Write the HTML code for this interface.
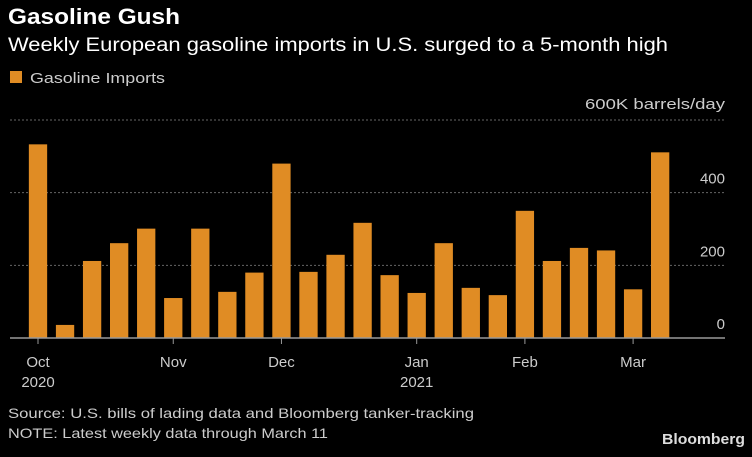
<!DOCTYPE html>
<html><head><meta charset="utf-8"><style>
html,body{margin:0;padding:0;background:#000;}
svg{display:block;font-family:"Liberation Sans Narrow","Liberation Sans",sans-serif;}
</style></head><body>
<svg id="chart" width="752" height="457" viewBox="0 0 752 457">
<rect width="752" height="457" fill="#000"/>
<text x="8" y="24" fill="#fff" font-size="22" font-weight="bold" textLength="172" lengthAdjust="spacingAndGlyphs">Gasoline Gush</text>
<text x="8" y="51" fill="#fff" font-size="19" textLength="660" lengthAdjust="spacingAndGlyphs">Weekly European gasoline imports in U.S. surged to a 5-month high</text>
<rect x="10" y="71" width="12" height="12" fill="#e08c24"/>
<text x="30" y="83" fill="#ccc" font-size="15" textLength="135" lengthAdjust="spacingAndGlyphs">Gasoline Imports</text>
<text x="725" y="109" fill="#ccc" font-size="15" text-anchor="end" textLength="140" lengthAdjust="spacingAndGlyphs">600K barrels/day</text>
<g id="grid"></g><g id="bars"></g><g id="xaxis"></g>
<text x="8" y="418" fill="#ccc" font-size="14" textLength="466" lengthAdjust="spacingAndGlyphs">Source: U.S. bills of lading data and Bloomberg tanker-tracking</text>
<text x="8" y="438" fill="#ccc" font-size="14" textLength="320" lengthAdjust="spacingAndGlyphs">NOTE: Latest weekly data through March 11</text>
<text x="745" y="444" fill="#ddd" font-size="15" font-weight="bold" text-anchor="end" textLength="83" lengthAdjust="spacingAndGlyphs" font-family="Liberation Sans, sans-serif">Bloomberg</text>
</svg>
<script>
const values = [533,36,212,261,301,110,301,127,180,480,182,229,317,173,124,261,138,118,350,212,248,241,134,511];
const yTicks = [0,200,400,600];
const monthLabels = ["Oct","Nov","Dec","Jan","Feb","Mar"];
const monthIndex = [0,5,9,14,18,22];
const yearLabels = ["2020","","","2021","",""];

const NS="http://www.w3.org/2000/svg";
const y0=338, yTop=120, xL=10, xR=725;
const y=v=>y0-(v/600)*(y0-yTop);
const step=27.05, bw=18.3, x0=38;
const xc=i=>x0+i*step;
function mk(tag,attrs,parent){const e=document.createElementNS(NS,tag);for(const k in attrs)e.setAttribute(k,attrs[k]);parent.appendChild(e);return e;}
const grid=document.getElementById('grid'),bars=document.getElementById('bars'),xa=document.getElementById('xaxis');
yTicks.forEach(t=>{
  if(t>0){const l=mk('line',{x1:xL,x2:xR,y1:y(t),y2:y(t),stroke:'#666','stroke-width':1,'stroke-dasharray':'2,2'},grid);
  
  }
  if(t<600){const tx=mk('text',{x:xR,y:y(t)-9,fill:'#ccc','font-size':15,'text-anchor':'end'},grid);tx.textContent=t;
  
  }
});
values.forEach((v,i)=>{
  const r=mk('rect',{x:xc(i)-bw/2,y:y(v),width:bw,height:y0-y(v),fill:'#e08c24'},bars);
  
  
});
const ax=mk('line',{x1:xL,x2:xR,y1:y0,y2:y0,stroke:'#999','stroke-width':1.5},xa);


monthLabels.forEach((m,k)=>{
  const x=xc(monthIndex[k]);
  const tk=mk('line',{x1:x,x2:x,y1:y0,y2:y0+6,stroke:'#999','stroke-width':1},xa);
  
  
  const t=mk('text',{x:x,y:367,fill:'#ccc','font-size':15,'text-anchor':'middle'},xa);t.textContent=m;
  
  
  if(yearLabels[k]){const yt=mk('text',{x:x,y:387,fill:'#ccc','font-size':15,'text-anchor':'middle'},xa);yt.textContent=yearLabels[k];
  
  }
});
</script>
</body></html>
